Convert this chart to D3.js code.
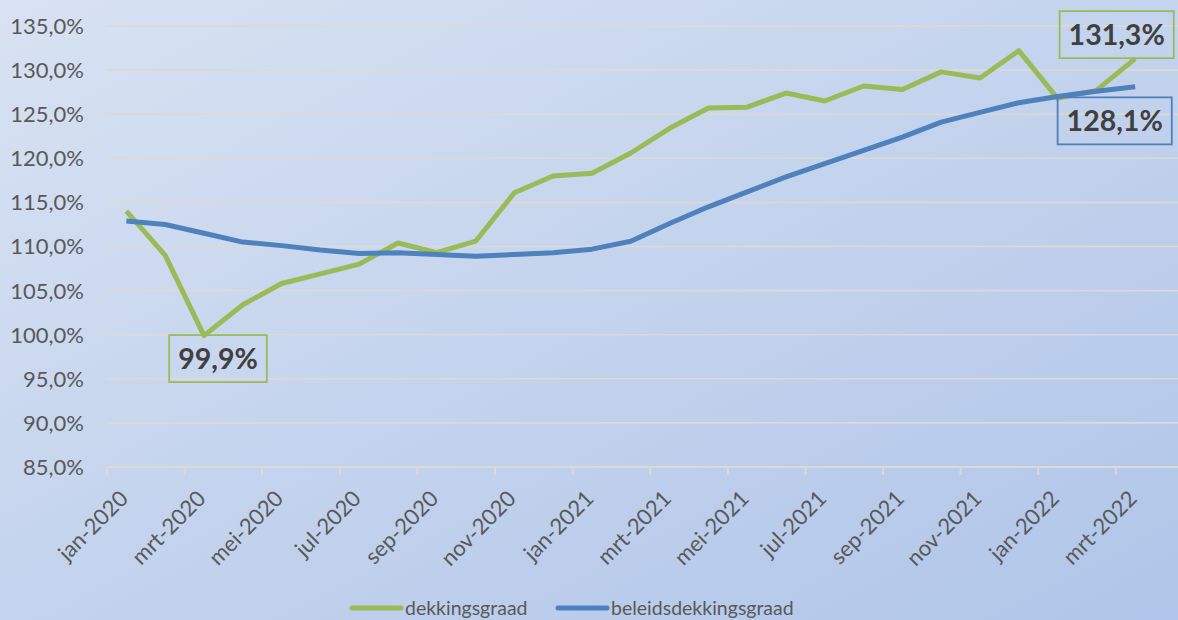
<!DOCTYPE html>
<html>
<head>
<meta charset="utf-8">
<script src="https://cdn.jsdelivr.net/npm/d3@7"></script>
<style>
  body { margin: 0; }
  svg { display: block; }
</style>
</head>
<body>
<script>
const months = [
  "jan-2020", "feb-2020", "mrt-2020", "apr-2020", "mei-2020", "jun-2020",
  "jul-2020", "aug-2020", "sep-2020", "okt-2020", "nov-2020", "dec-2020",
  "jan-2021", "feb-2021", "mrt-2021", "apr-2021", "mei-2021", "jun-2021",
  "jul-2021", "aug-2021", "sep-2021", "okt-2021", "nov-2021", "dec-2021",
  "jan-2022", "feb-2022", "mrt-2022",
];
const dekkingsgraad = [
  114.0, 109.0, 99.9, 103.4, 105.8, 106.9, 108.0, 110.4, 109.3, 110.6,
  116.1, 118.0, 118.3, 120.6, 123.4, 125.7, 125.8, 127.4, 126.5, 128.2,
  127.8, 129.8, 129.1, 132.2, 126.8, 127.7, 131.3,
];
const beleidsdekkingsgraad = [
  112.9, 112.5, 111.5, 110.5, 110.1, 109.6, 109.2, 109.3, 109.1, 108.9,
  109.1, 109.3, 109.7, 110.6, 112.6, 114.5, 116.2, 117.9, 119.4, 120.9,
  122.4, 124.1, 125.2, 126.3, 127.0, 127.6, 128.1,
];
const yTicks = [85, 90, 95, 100, 105, 110, 115, 120, 125, 130, 135];

const width = 1178, height = 620;
const green = "#9bbb59", blue = "#4f81bd";
const font = "Lato, 'Open Sans', sans-serif";

const svg = d3.select("body").append("svg")
  .attr("width", width)
  .attr("height", height);

// background gradient
const grad = svg.append("defs").append("linearGradient")
  .attr("id", "bg")
  .attr("x1", 0).attr("y1", 0).attr("x2", 1).attr("y2", 1);
grad.append("stop").attr("offset", "0%").attr("stop-color", "#d8e2f2");
grad.append("stop").attr("offset", "100%").attr("stop-color", "#b0c5e9");
svg.append("rect").attr("width", width).attr("height", height).attr("fill", "url(#bg)");

const x = d3.scaleBand().domain(months).range([107, 107 + 27 * 38.8]);
const y = d3.scaleLinear().domain([85, 135]).range([467, 26]);
const cx = (m) => x(m) + x.bandwidth() / 2;
const fmt = (v) => d3.format(".1f")(v).replace(".", ",") + "%";

// gridlines + y labels
svg.append("g").selectAll("line").data(yTicks).join("line")
  .attr("x1", 107).attr("x2", width)
  .attr("y1", (d) => y(d)).attr("y2", (d) => y(d))
  .attr("stroke", "#dcdad6")
  .attr("stroke-width", (d) => (d === 85 ? 2 : 1.6));

svg.append("g").selectAll("text").data(yTicks).join("text")
  .attr("x", 84).attr("y", (d) => y(d))
  .attr("dy", "0.36em")
  .attr("text-anchor", "end")
  .attr("font-family", font).attr("font-size", 22)
  .attr("fill", "#595959")
  .text(fmt);

// x ticks every 2 months
const tickMonths = months.filter((m, i) => i % 2 === 0);
svg.append("g").selectAll("line").data(tickMonths).join("line")
  .attr("x1", (d) => x(d)).attr("x2", (d) => x(d))
  .attr("y1", y(85)).attr("y2", y(85) + 8)
  .attr("stroke", "#dcdad6").attr("stroke-width", 2);

svg.append("g").selectAll("text").data(tickMonths).join("text")
  .attr("transform", (d) => `translate(${cx(d) + 3},${500}) rotate(-45)`)
  .attr("text-anchor", "end")
  .attr("font-family", font).attr("font-size", 22)
  .attr("fill", "#595959")
  .text((d) => d);

// lines
const line = d3.line()
  .x((d, i) => cx(months[i]))
  .y((d) => y(d));

[[dekkingsgraad, green], [beleidsdekkingsgraad, blue]].forEach(([vals, col]) => {
  svg.append("path")
    .attr("d", line(vals))
    .attr("fill", "none")
    .attr("stroke", col)
    .attr("stroke-width", 5)
    .attr("stroke-linejoin", "round");
});

// data labels
function addLabel(px, py, text, col) {
  const g = svg.append("g");
  const t = g.append("text")
    .attr("x", px).attr("y", py)
    .attr("dy", "0.36em")
    .attr("text-anchor", "middle")
    .attr("font-family", font).attr("font-size", 28.5).attr("font-weight", "bold")
    .attr("fill", "#404040")
    .text(text);
  const bb = t.node().getBBox();
  g.insert("rect", "text")
    .attr("x", px - bb.width / 2 - 9)
    .attr("y", py - 23.5)
    .attr("width", bb.width + 18)
    .attr("height", 47)
    .attr("fill", "none")
    .attr("stroke", col)
    .attr("stroke-width", 1.8);
}
const last = months.length - 1;
addLabel(cx(months[2]) + 14, y(dekkingsgraad[2]) + 23, fmt(dekkingsgraad[2]), green);
addLabel(cx(months[last]) - 18.5, y(dekkingsgraad[last]) - 24, fmt(dekkingsgraad[last]), green);
addLabel(cx(months[last]) - 20.5, y(beleidsdekkingsgraad[last]) + 34, fmt(beleidsdekkingsgraad[last]), blue);

// legend
const legend = [
  { name: "dekkingsgraad", color: green, x: 352 },
  { name: "beleidsdekkingsgraad", color: blue, x: 558 },
];
const lg = svg.append("g").selectAll("g").data(legend).join("g")
  .attr("transform", (d) => `translate(${d.x},608)`);
lg.append("line")
  .attr("x1", 0).attr("x2", 49)
  .attr("stroke", (d) => d.color)
  .attr("stroke-width", 5)
  .attr("stroke-linecap", "round");
lg.append("text")
  .attr("x", 53).attr("dy", "0.36em")
  .attr("font-family", font).attr("font-size", 19.5)
  .attr("fill", "#595959")
  .text((d) => d.name);
</script>
</body>
</html>
